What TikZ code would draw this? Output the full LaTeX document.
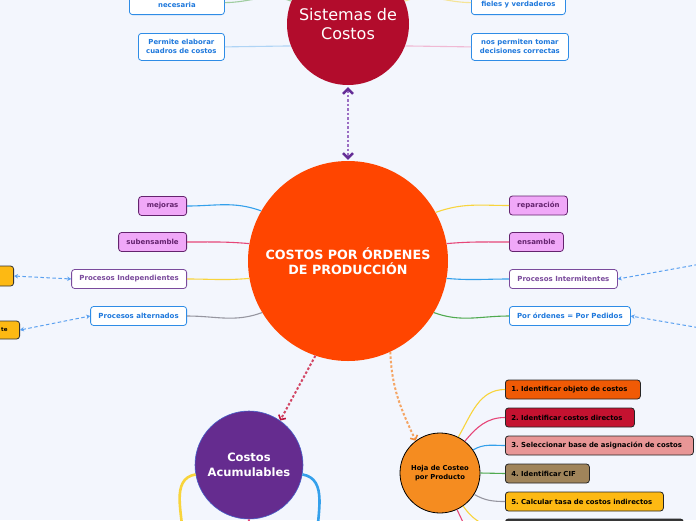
\documentclass[tikz,border=0pt]{standalone}
\usepackage{fontspec}
\setmainfont{DejaVu Sans}
\usepackage{tikz}
\usetikzlibrary{arrows.meta, positioning, calc}
\frenchspacing
\definecolor{bgpale}{RGB}{243,246,253}
\definecolor{crimsonsys}{RGB}{178,12,44}
\definecolor{redorange}{RGB}{255,69,0}
\definecolor{purpleacum}{RGB}{101,44,143}
\definecolor{acumedge}{RGB}{70,95,200}
\definecolor{orangehoja}{RGB}{245,140,32}
\definecolor{violetsoft}{RGB}{240,168,248}
\definecolor{plumdark}{RGB}{100,35,110}
\definecolor{purplemid}{RGB}{122,74,156}
\definecolor{bluemid}{RGB}{46,140,230}
\definecolor{bluetext}{RGB}{30,120,220}
\definecolor{bluebr}{RGB}{52,160,235}
\definecolor{pinkbr}{RGB}{230,70,120}
\definecolor{yellowbr}{RGB}{248,212,60}
\definecolor{graybr}{RGB}{150,150,160}
\definecolor{greenbr}{RGB}{80,170,80}
\definecolor{bluelite}{RGB}{175,212,245}
\definecolor{pinklite}{RGB}{240,185,212}
\definecolor{greenlite}{RGB}{160,205,160}
\definecolor{yellowlite}{RGB}{245,228,150}
\definecolor{dashblue}{RGB}{90,160,240}
\definecolor{purplesoft}{RGB}{155,110,195}
\definecolor{purplehead}{RGB}{100,45,150}
\definecolor{crimsonsoft}{RGB}{210,70,100}
\definecolor{crimsonhead}{RGB}{190,20,60}
\definecolor{orangesoft}{RGB}{245,165,100}
\definecolor{orangehead}{RGB}{240,140,60}
\definecolor{amberbox}{RGB}{253,185,19}
\definecolor{stepone}{RGB}{240,90,5}
\definecolor{steptwo}{RGB}{196,18,48}
\definecolor{stepthree}{RGB}{232,150,150}
\definecolor{stepfour}{RGB}{160,132,90}
\definecolor{stepsix}{RGB}{55,55,55}

\begin{document}
\begin{tikzpicture}[x=1pt, y=-1pt,
  leaf/.style={draw, rounded corners=3pt, line width=0.8pt, minimum height=19pt, inner sep=2pt,
    font=\fontsize{7}{8.5}\selectfont\bfseries},
  pinkleaf/.style={leaf, fill=violetsoft, draw=plumdark, text=plumdark},
  procleaf/.style={leaf, fill=white, draw=purplemid, text=purplemid},
  blueleaf/.style={leaf, fill=white, draw=bluemid, text=bluetext},
  topleaf/.style={blueleaf, align=center, font=\fontsize{6.9}{9}\selectfont\bfseries},
  amberleaf/.style={leaf, fill=amberbox, draw=black!80, text=black},
  stepbox/.style={leaf, draw=black!85, text=black, align=left, inner xsep=6pt,
    font=\fontsize{6.9}{8.5}\selectfont\bfseries},
  hub/.style={circle, inner sep=0pt, align=center, text=white},
  branch/.style={line width=1.1pt},
  bluelink/.style={draw=dashblue, line width=1pt, dash pattern=on 3.5pt off 2.5pt,
    arrows={Stealth[length=4pt,width=4.5pt]-Stealth[length=4pt,width=4.5pt]}},
  dotlink/.style={line width=2pt, dash pattern=on 2.5pt off 2pt},
]
\useasboundingbox (0,0) rectangle (696,520);
\fill[bgpale] (0,0) rectangle (696,520);

% hubs
\node[hub, fill=crimsonsys, minimum size=122pt, font=\fontsize{16}{19.5}\selectfont] (sistemas) at (348,24) {Sistemas de\\Costos};
\node[hub, fill=redorange, minimum size=200pt, font=\fontsize{12.7}{15.5}\selectfont\bfseries] (ordenes) at (348,261) {COSTOS POR ÓRDENES\\DE PRODUCCIÓN};
\node[hub, fill=purpleacum, draw=acumedge, line width=0.6pt, minimum size=108pt, font=\fontsize{11.5}{15}\selectfont\bfseries] (acumulables) at (249,465) {Costos\\Acumulables};
\node[hub, fill=orangehoja, draw=black, line width=0.8pt, minimum size=80pt, text=black, font=\fontsize{6.8}{9}\selectfont\bfseries] (hoja) at (440,473) {Hoja de Costeo\\por Producto};

% top leaves
\node[topleaf, anchor=south west, minimum width=95pt, minimum height=24pt] (necesaria) at (129,15) {\mbox{}\\necesaria};
\node[topleaf, anchor=south west, minimum width=94pt, minimum height=24pt] (fieles) at (471,15) {\mbox{}\\fieles y verdaderos};
\node[topleaf, anchor=north west, minimum width=86pt, minimum height=27pt] (permite) at (138,33) {Permite elaborar\\cuadros de costos};
\node[topleaf, anchor=north west, minimum width=97pt, minimum height=27pt] (nosPermiten) at (471,33) {nos permiten tomar\\decisiones correctas};

% left leaves
\node[pinkleaf, anchor=east, minimum width=48pt] (mejoras) at (187,206) {mejoras};
\node[pinkleaf, anchor=east, minimum width=68pt] (subensamble) at (187,242) {subensamble};
\node[procleaf, anchor=east, minimum width=115pt] (procIndep) at (187,279) {Procesos Independientes};
\node[blueleaf, anchor=east, minimum width=96pt] (procAlt) at (187,316) {Procesos alternados};
\node[amberleaf, anchor=east, minimum width=60pt, minimum height=20pt] (amberIndep) at (14,276) {};
\node[amberleaf, anchor=east, minimum width=60pt, minimum height=18pt, text width=38pt, align=right, inner xsep=12pt,
  font=\fontsize{5.5}{7}\selectfont\bfseries] (amberAlt) at (20,330) {te};

% right leaves
\node[pinkleaf, anchor=west, minimum width=58pt] (reparacion) at (509,205.5) {reparación};
\node[pinkleaf, anchor=west, minimum width=54pt] (ensamble) at (509,242) {ensamble};
\node[procleaf, anchor=west, minimum width=108pt] (procInter) at (509,279) {Procesos Intermitentes};
\node[blueleaf, anchor=west, minimum width=121pt] (porOrdenes) at (509,316) {Por órdenes = Por Pedidos};
\coordinate (farInter) at (712,262);
\coordinate (farOrden) at (712,330);

% steps of the costing sheet
\node[stepbox, fill=stepone, anchor=west, text width=123pt] (stepOne) at (505,389.5) {1. Identificar objeto de costos};
\node[stepbox, fill=steptwo, anchor=west, text width=117pt] (stepTwo) at (505,417.5) {2. Identificar costos directos};
\node[stepbox, fill=stepthree, anchor=west, text width=176pt] (stepThree) at (505,445.5) {3. Seleccionar base de asignación de costos};
\node[stepbox, fill=stepfour, anchor=west, text width=72pt] (stepFour) at (505,473.5) {4. Identificar CIF};
\node[stepbox, fill=amberbox, anchor=west, text width=146pt] (stepFive) at (505,501.5) {5. Calcular tasa de costos indirectos};
\node[stepbox, fill=stepsix, anchor=west, text width=166pt] (stepSix) at (505,528.5) {};
\coordinate (stepSeven) at (505,557);

% connectors
\draw[branch, greenlite] (necesaria.east) to[out=0,in=160] (sistemas.158);
\draw[branch, yellowlite] (fieles.west) to[out=180,in=20] (sistemas.22);
\draw[branch, bluelite] (permite.east) -- (sistemas.201);
\draw[branch, pinklite] (nosPermiten.west) -- (sistemas.339);

\draw[branch, bluebr] (mejoras.east) to[out=0,in=160] (ordenes.150);
\draw[branch, pinkbr] (subensamble.east) to[out=0,in=175] (ordenes.170);
\draw[branch, yellowbr] (procIndep.east) to[out=0,in=185] (ordenes.190);
\draw[branch, graybr] (procAlt.east) to[out=0,in=200] (ordenes.211);
\draw[branch, yellowbr] (reparacion.west) to[out=180,in=20] (ordenes.29);
\draw[branch, pinkbr] (ensamble.west) to[out=180,in=5] (ordenes.10);
\draw[branch, bluebr] (procInter.west) to[out=180,in=-5] (ordenes.350);
\draw[branch, greenbr] (porOrdenes.west) to[out=180,in=-20] (ordenes.329);

\draw[bluelink] (amberIndep.east) -- (procIndep.west);
\draw[bluelink] (amberAlt.east) -- (procAlt.west);
\draw[bluelink] (farInter) -- (procInter.east);
\draw[bluelink] (farOrden) -- (porOrdenes.east);

\coordinate (acumLeft) at (183,540);
\coordinate (acumRight) at (317,540);
\coordinate (acumDown) at (248,540);
\draw[line width=2.6pt, yellowbr] (acumulables.190) to[out=190,in=90] (acumLeft);
\draw[line width=2.6pt, bluebr] (acumulables.-10) to[out=-10,in=90] (acumRight);
\draw[line width=2pt, pinkbr] (acumulables.270) -- (acumDown);

\draw[branch, yellowbr] (hoja.63) to[out=60,in=180] (stepOne.west);
\draw[branch, pinkbr] (hoja.52) to[out=50,in=180] (stepTwo.west);
\draw[branch, bluebr] (hoja.35) to[out=30,in=180] (stepThree.west);
\draw[branch, greenbr] (hoja.0) -- (stepFour.west);
\draw[branch, graybr] (hoja.-32) to[out=-30,in=180] (stepFive.west);
\draw[branch, yellowbr] (hoja.-55) to[out=-55,in=180] (stepSix.west);
\draw[branch, pinkbr] (hoja.-65) to[out=-65,in=180] (stepSeven);

\draw[dotlink, line width=2.8pt, purplesoft, shorten <=2pt, shorten >=1pt,
  arrows={Straight Barb[color=purplehead,length=5pt,width=10pt,line width=2.4pt]-Straight Barb[color=purplehead,length=5pt,width=10pt,line width=2.4pt]}]
  (sistemas.south) -- (ordenes.north);
\draw[dotlink, crimsonsoft, arrows={-Straight Barb[color=crimsonhead,length=3.5pt,width=8pt,line width=1.6pt]}]
  (ordenes.251) -- (acumulables.55);
\draw[dotlink, orangesoft, arrows={-Straight Barb[color=orangehead,length=3.5pt,width=8pt,line width=1.6pt]}]
  (ordenes.295) to[out=-88,in=115] (hoja.127);
\end{tikzpicture}
\end{document}
